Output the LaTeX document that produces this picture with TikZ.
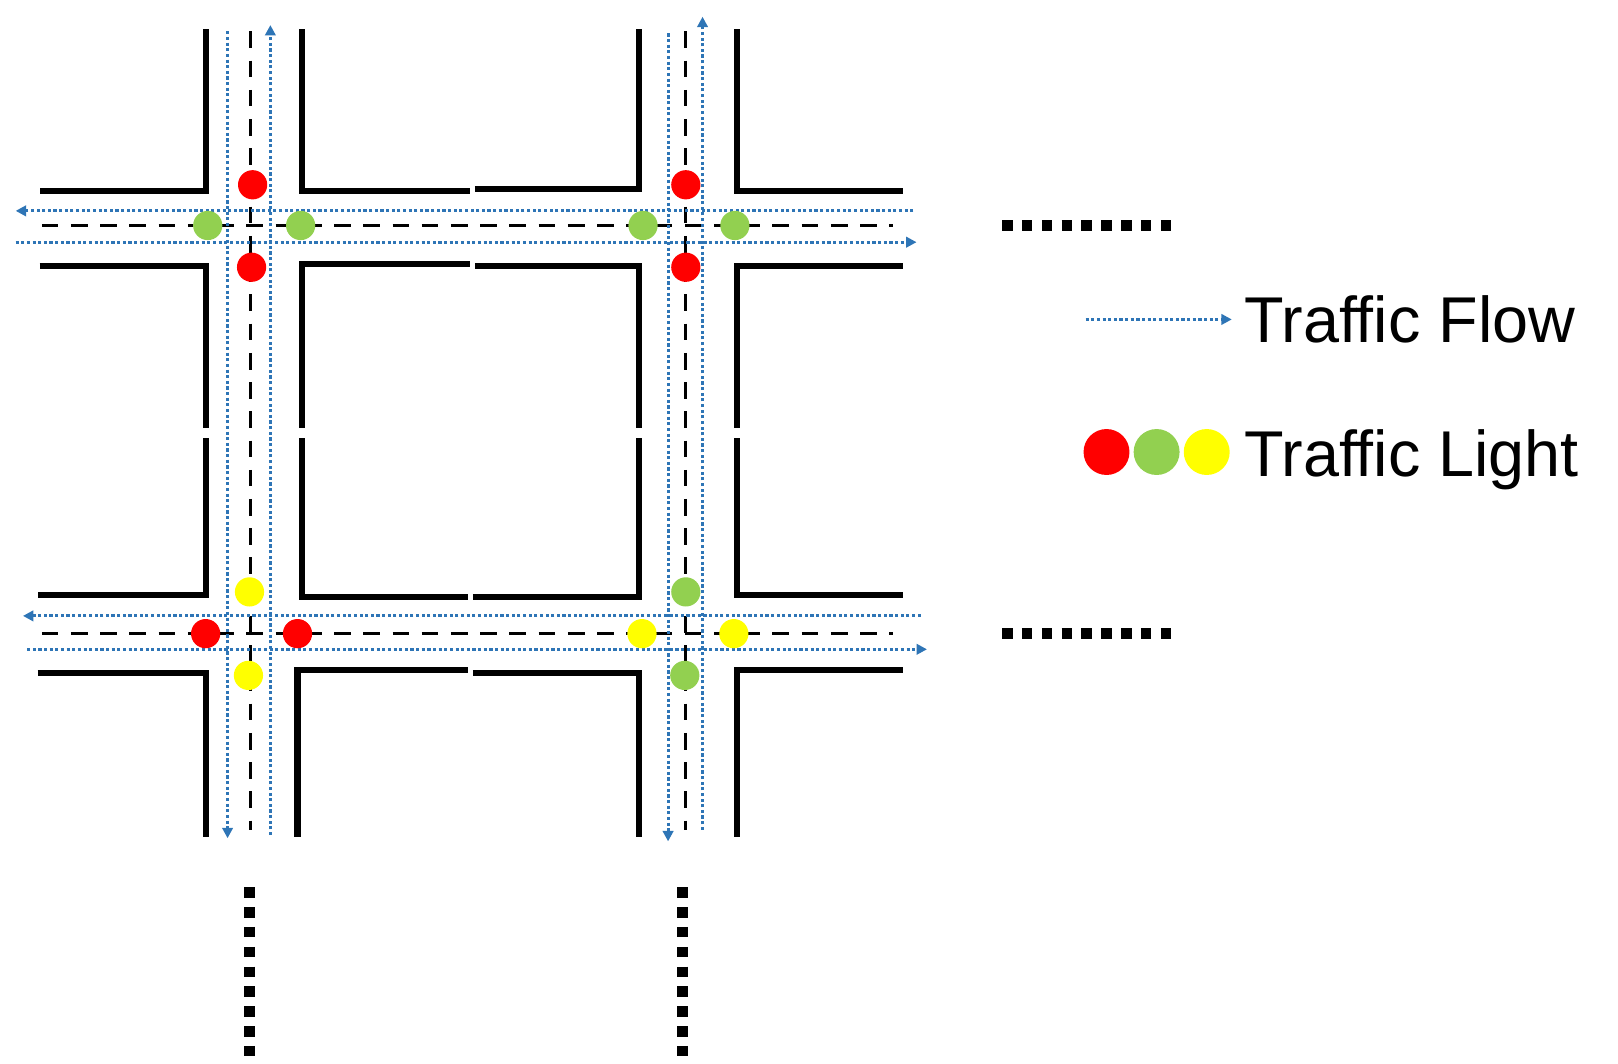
\documentclass[tikz,border=0pt]{standalone}
\usepackage{fontspec}
\setmainfont{Liberation Sans}
\usetikzlibrary{arrows.meta}
\definecolor{flow}{RGB}{46,117,182}
\definecolor{lred}{RGB}{255,0,0}
\definecolor{lgreen}{RGB}{146,208,80}
\definecolor{lyellow}{RGB}{255,255,0}
\begin{document}
\begin{tikzpicture}[x=0.5pt,y=-0.5pt,
  wall/.style={line width=3pt},
  lane/.style={line width=1.5pt,dash pattern=on 8pt off 6pt},
  flowline/.style={flow,line width=1.5pt,dash pattern=on 1.5pt off 1.2pt,-{Triangle[length=5pt,width=5pt]}},
  light/.style={circle,inner sep=0pt,minimum size=14pt},
  more/.style={line width=5pt,dash pattern=on 5pt off 4.5pt},
  lbl/.style={anchor=west,font=\fontsize{31}{34}\selectfont}]
\useasboundingbox (0,0) rectangle (1550,1019);
% walls road 1 vertical
\draw[wall] (197,28) -- (197,183) -- (38,183);
\draw[wall] (289,28) -- (289,183) -- (450,183);
\draw[wall] (455,181) -- (612,181) -- (612,28);
\draw[wall] (706,28) -- (706,183) -- (865,183);
\draw[wall] (38,255) -- (197,255) -- (197,410);
\draw[wall] (450,253) -- (289,253) -- (289,410);
\draw[wall] (455,255) -- (612,255) -- (612,410);
\draw[wall] (865,255) -- (706,255) -- (706,410);
\draw[wall] (197,420) -- (197,570) -- (36,570);
\draw[wall] (289,420) -- (289,572) -- (448,572);
\draw[wall] (453,572) -- (612,572) -- (612,420);
\draw[wall] (706,420) -- (706,570) -- (865,570);
\draw[wall] (36,645) -- (197,645) -- (197,802);
\draw[wall] (448,642) -- (285,642) -- (285,802);
\draw[wall] (453,645) -- (612,645) -- (612,802);
\draw[wall] (865,642) -- (706,642) -- (706,802);
% lane dashes
\draw[lane] (240,30) -- (240,795);
\draw[lane] (657,30) -- (657,795);
\draw[lane] (40,216) -- (855,216);
\draw[lane] (40,607) -- (855,607);
% flow
\coordinate (v1t) at (218,30); \coordinate (v1b) at (218,803);
\draw[flowline] (v1t) -- (v1b);
\coordinate (v1u) at (259,800); \coordinate (v1e) at (259,24);
\draw[flowline] (v1u) -- (v1e);
\coordinate (v2t) at (640,32); \coordinate (v2b) at (640,806);
\draw[flowline] (v2t) -- (v2b);
\coordinate (v2u) at (673,795); \coordinate (v2e) at (673,16);
\draw[flowline] (v2u) -- (v2e);
\coordinate (h1r) at (875,202); \coordinate (h1l) at (15,202);
\draw[flowline] (h1r) -- (h1l);
\coordinate (h1a) at (15,232); \coordinate (h1b) at (878,232);
\draw[flowline] (h1a) -- (h1b);
\coordinate (h2r) at (882,590); \coordinate (h2l) at (22,590);
\draw[flowline] (h2r) -- (h2l);
\coordinate (h2a) at (26,622); \coordinate (h2b) at (888,622);
\draw[flowline] (h2a) -- (h2b);
% lights
\node[light,fill=lred] (a1) at (242,177) {};
\node[light,fill=lgreen] (a2) at (199,216) {};
\node[light,fill=lgreen] (a3) at (288,216) {};
\node[light,fill=lred] (a4) at (241,256) {};
\node[light,fill=lred] (b1) at (657,177) {};
\node[light,fill=lgreen] (b2) at (616,216) {};
\node[light,fill=lgreen] (b3) at (704,216) {};
\node[light,fill=lred] (b4) at (657,256) {};
\node[light,fill=lyellow] (c1) at (239,567) {};
\node[light,fill=lred] (c2) at (197,607) {};
\node[light,fill=lred] (c3) at (285,607) {};
\node[light,fill=lyellow] (c4) at (238,647) {};
\node[light,fill=lgreen] (d1) at (657,567) {};
\node[light,fill=lyellow] (d2) at (615,607) {};
\node[light,fill=lyellow] (d3) at (703,607) {};
\node[light,fill=lgreen] (d4) at (656,647) {};
% ellipses
\draw[more] (960,216) -- (1126,216);
\draw[more] (960,607) -- (1126,607);
\draw[more] (239,850) -- (239,1016);
\draw[more] (654,850) -- (654,1016);
% legend
\coordinate (lf1) at (1040,306); \coordinate (lf2) at (1180,306);
\draw[flowline] (lf1) -- (lf2);
\node[lbl] (tf) at (1185,306) {Traffic Flow};
\node[circle,inner sep=0pt,minimum size=22pt,fill=lred] (l1) at (1060,433) {};
\node[circle,inner sep=0pt,minimum size=22pt,fill=lgreen] (l2) at (1108,433) {};
\node[circle,inner sep=0pt,minimum size=22pt,fill=lyellow] (l3) at (1156,433) {};
\node[lbl] (tl) at (1185,440) {Traffic Light};
\end{tikzpicture}
\end{document}
